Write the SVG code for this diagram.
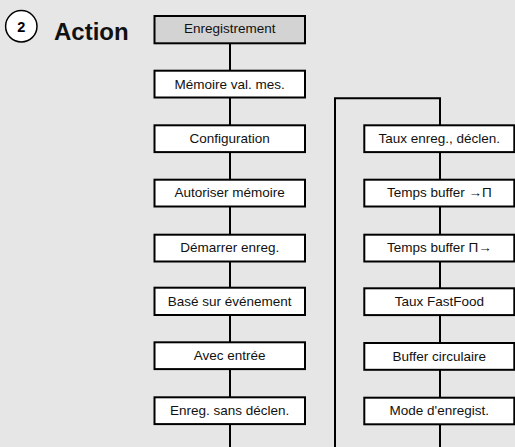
<svg xmlns="http://www.w3.org/2000/svg" width="515" height="447" viewBox="0 0 515 447">
<style>
.bg{fill:#e6e6e6}
.box{fill:#ffffff;stroke:#000;stroke-width:2}
.box.hl{fill:#d3d3d3}
.lbl{font-family:"Liberation Sans",Arial,sans-serif;font-size:13.5px;fill:#111;text-anchor:middle}
.con{fill:none;stroke:#000;stroke-width:2}
</style>
<rect class="bg" x="0" y="0" width="515" height="447"/>
<g id="title">
<circle cx="21.3" cy="26.3" r="15.7" fill="#fff" stroke="#000" stroke-width="1.5"/>
<text x="21.3" y="31.5" font-family="Liberation Sans,Arial,sans-serif" font-size="14.5" font-weight="bold" text-anchor="middle" fill="#000">2</text>
<text x="54" y="40" font-family="Liberation Sans,Arial,sans-serif" font-size="24" font-weight="bold" fill="#111">Action</text>
</g>
<g id="connectors">
<path class="con" d="M230 43 V447"/>
<path class="con" d="M335 447 V98.3 H440 V447"/>
</g>
<g id="n1"><rect class="box hl" x="154.5" y="16" width="150.5" height="27.3"/><text class="lbl" x="229.7" y="32.7">Enregistrement</text></g>
<g id="n2"><rect class="box" x="154.5" y="70.7" width="150.5" height="26.8"/><text class="lbl" x="229.7" y="88.5">Mémoire val. mes.</text></g>
<g id="n3"><rect class="box" x="154.5" y="125.3" width="150.5" height="26.8"/><text class="lbl" x="229.7" y="142.9">Configuration</text></g>
<g id="n4"><rect class="box" x="154.5" y="179.7" width="150.5" height="26.8"/><text class="lbl" x="229.7" y="197.3">Autoriser mémoire</text></g>
<g id="n5"><rect class="box" x="154.5" y="234.7" width="150.5" height="26.8"/><text class="lbl" x="229.7" y="252.3">Démarrer enreg.</text></g>
<g id="n6"><rect class="box" x="154.5" y="287.7" width="150.5" height="27.3"/><text class="lbl" x="229.7" y="305.5">Basé sur événement</text></g>
<g id="n7"><rect class="box" x="154.5" y="342.3" width="150.5" height="26.8"/><text class="lbl" x="229.7" y="359.9">Avec entrée</text></g>
<g id="n8"><rect class="box" x="154.5" y="397.3" width="150.5" height="26.8"/><text class="lbl" x="229.7" y="414.9">Enreg. sans déclen.</text></g>
<g id="r1"><rect class="box" x="364.3" y="125.3" width="150" height="26.8"/><text class="lbl" x="439.3" y="142.9">Taux enreg., déclen.</text></g>
<g id="r2"><rect class="box" x="364.3" y="179.7" width="150" height="26.8"/><text class="lbl" x="439.3" y="197.3">Temps buffer →Π</text></g>
<g id="r3"><rect class="box" x="364.3" y="234.7" width="150" height="26.8"/><text class="lbl" x="439.3" y="252.3">Temps buffer Π→</text></g>
<g id="r4"><rect class="box" x="364.3" y="288.3" width="150" height="26.8"/><text class="lbl" x="439.3" y="305.9">Taux FastFood</text></g>
<g id="r5"><rect class="box" x="364.3" y="343" width="150" height="26.8"/><text class="lbl" x="439.3" y="360.6">Buffer circulaire</text></g>
<g id="r6"><rect class="box" x="364.3" y="397.7" width="150" height="26.6"/><text class="lbl" x="439.3" y="415.2">Mode d'enregist.</text></g>
</svg>
